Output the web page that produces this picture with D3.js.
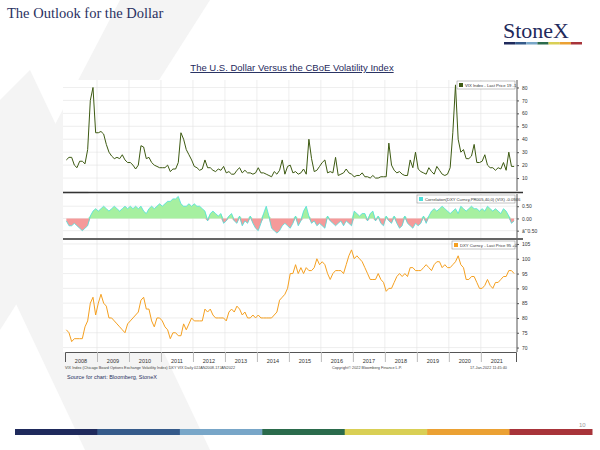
<!DOCTYPE html>
<html lang="en">
<head>
    <style>
        body { margin: 0; background: #fff; }
        svg { width: 600px; height: 450px; display: block; font-family: "Liberation Sans", Arial, sans-serif; }
        .serif { font-family: "Liberation Serif", "Times New Roman", serif; }
    </style>
</head>
<body>
    <svg></svg>
    <script src="https://cdn.jsdelivr.net/npm/d3@7/dist/d3.min.js"></script>
    <script>
        // Monthly readings, Jan 2008 .. Jan 2022
        const vix = [
            24,26,26,20,18,23,23,21,32,70,80,45,
            45,46,44,36,30,27,25,26,25,28,24,22,
            22,20,17,20,35,34,25,26,22,20,19,18,
            18,18,20,15,17,17,22,45,40,32,28,24,
            19,18,16,17,24,18,18,16,15,17,16,19,
            14,15,13,13,16,18,14,16,14,14,13,14,
            18,14,14,13,12,11,15,13,16,24,13,19,
            20,14,15,13,14,17,13,40,25,15,16,19,
            22,24,14,15,14,26,12,13,14,17,14,13,
            11,12,12,14,11,11,10,12,10,10,11,11,
            11,37,20,16,14,15,13,12,12,24,18,30,
            17,15,14,13,18,15,13,19,16,13,12,13,
            18,45,82,40,30,32,25,25,27,36,22,22,
            23,28,20,18,18,16,18,17,22,16,30,19,
            19
        ];
        const corr = [
            -0.1,-0.3,-0.3,-0.2,-0.3,-0.4,-0.5,-0.4,-0.3,0.1,0.3,0.4,
            0.3,0.4,0.5,0.4,0.3,0.4,0.5,0.4,0.3,0.4,0.5,0.4,
            0.5,0.4,0.5,0.4,0.5,0.3,0.2,0.4,0.5,0.4,0.5,0.6,
            0.5,0.6,0.7,0.7,0.8,0.8,0.9,0.6,0.5,0.5,0.6,0.5,
            0.6,0.5,0.5,0.4,0.3,-0.1,0.2,0.3,0.2,0.1,0.2,-0.2,
            -0.1,0.1,0.2,-0.1,-0.2,0.1,-0.3,-0.1,-0.2,0.1,-0.2,-0.4,
            -0.5,-0.2,0.2,0.5,0.1,-0.4,-0.5,-0.6,-0.5,-0.3,-0.2,-0.3,
            -0.4,-0.2,0.1,-0.3,-0.1,0.3,0.5,0.1,-0.2,-0.1,-0.3,-0.2,
            -0.3,-0.4,0.1,-0.1,-0.2,-0.3,-0.2,-0.1,-0.3,-0.1,-0.2,-0.3,
            0.3,0.2,0.1,0.2,0.2,-0.1,0.2,0.3,-0.1,0.1,-0.2,-0.3,
            0.1,-0.1,-0.2,0.1,-0.2,-0.4,-0.3,0.1,-0.2,-0.3,-0.4,-0.2,
            -0.3,-0.2,0.1,-0.2,0.1,0.3,0.4,0.3,0.4,0.5,0.4,0.3,
            0.2,0.3,0.4,0.2,0.5,0.4,0.3,0.4,0.5,0.4,0.4,0.3,
            0.4,0.3,0.5,0.4,0.3,0.4,0.3,0.2,0.4,0.3,0.1,-0.2,
            -0.1
        ];
        const dxy = [
            76,75,72,73,73,73,73,77,79,85,87,81,
            85,88,85,84,80,80,79,78,77,76,75,78,
            79,80,81,82,86,87,83,83,79,77,80,80,
            79,77,76,73,75,75,74,74,78,76,78,80,
            79,79,79,79,83,82,83,81,80,80,80,80,
            79,82,83,82,84,83,81,82,80,80,81,80,
            81,80,80,80,80,80,81,82,86,87,88,90,
            95,95,98,95,97,95,97,96,96,97,100,98,
            99,98,95,93,95,96,96,96,95,98,101,103,
            100,101,100,99,97,95,93,93,93,95,93,92,
            89,90,90,92,94,95,94,95,94,97,97,96,
            96,96,97,98,97,96,98,99,99,97,98,97,
            97,98,99,101,98,97,93,93,94,94,92,90,
            90,91,93,91,90,92,92,93,94,94,96,96,
            95
        ];
        const years = d3.range(2008, 2022);
        const vixTicks = [10, 20, 30, 40, 50, 60, 70, 80];
        const corrTicks = [0.5, 0, -0.5];
        const dxyTicks = [70, 75, 80, 85, 90, 95, 100, 105];
        const footColors = ["#1f2a5c", "#355a8a", "#78a6c8", "#2b6b4c", "#d9cf55", "#eba133", "#a8343a"];

        const svg = d3.select("svg");
        const t = i => 2008 + i / 12 + 1 / 24;

        // faint background shapes
        svg.append("path").attr("d", "M210,0 L120,0 L0,230 L0,330 Z").attr("fill", "#f4f4f4");
        svg.append("path").attr("d", "M0,100 L30,70 L210,450 L85,450 L0,270 Z").attr("fill", "#f4f4f4");

        // header
        svg.append("text").attr("class", "serif").attr("x", 7).attr("y", 18)
            .attr("font-size", 14.5).attr("fill", "#2a3161").text("The Outlook  for the Dollar");
        svg.append("text").attr("class", "serif").attr("x", 503).attr("y", 38)
            .attr("font-size", 22).attr("fill", "#1f2a5c").text("StoneX");
        const logoX = d3.scaleBand().domain(d3.range(7)).range([504, 582]);
        svg.append("g").selectAll("rect").data(footColors).join("rect")
            .attr("x", (d, i) => logoX(i)).attr("y", 42).attr("width", logoX.bandwidth()).attr("height", 2.5).attr("fill", d => d);
        svg.append("text").attr("x", 292).attr("y", 71).attr("text-anchor", "middle").attr("font-size", 9.5)
            .attr("fill", "#1f2a5c").attr("text-decoration", "underline").text("The U.S. Dollar Versus the CBoE Volatility Index");

        const x = d3.scaleLinear().domain([2008, 2022.1]).range([65, 516]);
        const left = 63, right = 517;

        function panel(top, bottom) {
            svg.append("rect").attr("x", left).attr("y", top).attr("width", right - left).attr("height", bottom - top).attr("fill", "#fff");
            svg.append("g").selectAll("line").data(d3.range(2009, 2022)).join("line")
                .attr("x1", d => x(d)).attr("x2", d => x(d)).attr("y1", top).attr("y2", bottom)
                .attr("stroke", "#e2e2e2").attr("stroke-width", 0.6);
        }
        function rightAxis(y, ticks, fmt, top, bottom) {
            svg.append("g").selectAll("line").data(ticks).join("line")
                .attr("x1", left).attr("x2", right).attr("y1", d => y(d)).attr("y2", d => y(d))
                .attr("stroke", "#e2e2e2").attr("stroke-width", 0.6);
            const g = svg.append("g").attr("transform", `translate(${right},0)`)
                .call(d3.axisRight(y).tickValues(ticks).tickSize(2).tickFormat(fmt));
            g.select(".domain").attr("d", `M0,${top}V${bottom}`).attr("stroke", "#555");
            g.selectAll("text").attr("font-size", 5).attr("fill", "#333");
            g.selectAll(".tick line").attr("stroke", "#555");
        }
        function legend(xr, y, w, color, label) {
            const g = svg.append("g");
            g.append("rect").attr("x", xr - w).attr("y", y).attr("width", w).attr("height", 8).attr("fill", "#fff").attr("stroke", "#888").attr("stroke-width", 0.5);
            g.append("rect").attr("x", xr - w + 2).attr("y", y + 2).attr("width", 4).attr("height", 4).attr("fill", color);
            g.append("text").attr("x", xr - w + 8).attr("y", y + 6).attr("font-size", 4.2).attr("fill", "#333").text(label);
        }

        // VIX panel
        panel(80, 191);
        const yV = d3.scaleLinear().domain([0, 85]).range([191, 81]);
        rightAxis(yV, vixTicks, d3.format("d"), 80, 191);
        svg.append("path").datum(vix).attr("fill", "none").attr("stroke", "#3d5a12").attr("stroke-width", 1)
            .attr("d", d3.line().x((d, i) => x(t(i))).y(d => yV(d)));
        legend(515, 81, 58, "#3d5a12", "VIX Index - Last Price 19  -1");

        // correlation panel
        panel(194, 238);
        const yC = d3.scaleLinear().domain([-0.8, 1.0]).range([238, 194]);
        rightAxis(yC, corrTicks, d3.format(".2f"), 194, 238);
        const area = d3.area().x((d, i) => x(t(i))).y0(yC(0)).y1(d => yC(d));
        svg.append("path").datum(corr.map(d => Math.max(d, 0))).attr("fill", "#a6f0a0").attr("d", area);
        svg.append("path").datum(corr.map(d => Math.min(d, 0))).attr("fill", "#f59a9a").attr("d", area);
        svg.append("path").datum(corr).attr("fill", "none").attr("stroke", "#4de0dc").attr("stroke-width", 0.8)
            .attr("d", d3.line().x((d, i) => x(t(i))).y(d => yC(d)));
        legend(515, 195, 98, "#4de0dc", "Correlation(DXY Curncy,PR005,40,0) (VIX)  -0.0946");

        // DXY panel
        panel(240, 352);
        const yD = d3.scaleLinear().domain([68.5, 106]).range([352, 241]);
        rightAxis(yD, dxyTicks, d3.format("d"), 240, 352);
        svg.append("path").datum(dxy).attr("fill", "none").attr("stroke", "#f5a020").attr("stroke-width", 1)
            .attr("d", d3.line().x((d, i) => x(t(i))).y(d => yD(d)));
        legend(515, 241, 63, "#f5a020", "DXY Curncy - Last Price 95  +0");

        // panel separators
        [192.5, 239].forEach(yy => svg.append("line").attr("x1", left).attr("x2", right + 6).attr("y1", yy).attr("y2", yy)
            .attr("stroke", "#333").attr("stroke-width", 1.4));

        // x axis
        const xg = svg.append("g").attr("transform", "translate(0,352)")
            .call(d3.axisBottom(x).tickValues(d3.range(2009, 2022)).tickSize(10).tickFormat(""));
        xg.select(".domain").attr("stroke", "#555");
        xg.selectAll(".tick line").attr("stroke", "#bbb");
        svg.append("g").selectAll("text").data(years).join("text")
            .attr("x", d => x(d + 0.5)).attr("y", 363).attr("text-anchor", "middle").attr("font-size", 5.5).attr("fill", "#333").text(d => d);

        svg.append("text").attr("x", 65).attr("y", 369).attr("font-size", 3.8).attr("fill", "#444")
            .text("VIX Index (Chicago Board Options Exchange Volatility Index) DXY VIX  Daily 02JAN2008-17JAN2022");
        svg.append("text").attr("x", 332).attr("y", 369).attr("font-size", 3.8).attr("fill", "#444").text("Copyright\u00a9 2022 Bloomberg Finance L.P.");
        svg.append("text").attr("x", 470).attr("y", 369).attr("font-size", 3.8).attr("fill", "#444").text("17-Jan-2022 11:45:40");
        svg.append("text").attr("x", 67).attr("y", 379).attr("font-size", 5.5).attr("fill", "#2a3161").text("Source for chart: Bloomberg, StoneX");

        // footer
        svg.append("text").attr("x", 579).attr("y", 427).attr("font-size", 6).attr("fill", "#999").text("10");
        const footX = d3.scaleBand().domain(d3.range(7)).range([15, 592]);
        svg.append("g").selectAll("rect").data(footColors).join("rect")
            .attr("x", (d, i) => footX(i)).attr("y", 429).attr("width", footX.bandwidth() + 0.5).attr("height", 6).attr("fill", d => d);
    </script>
</body>
</html>
